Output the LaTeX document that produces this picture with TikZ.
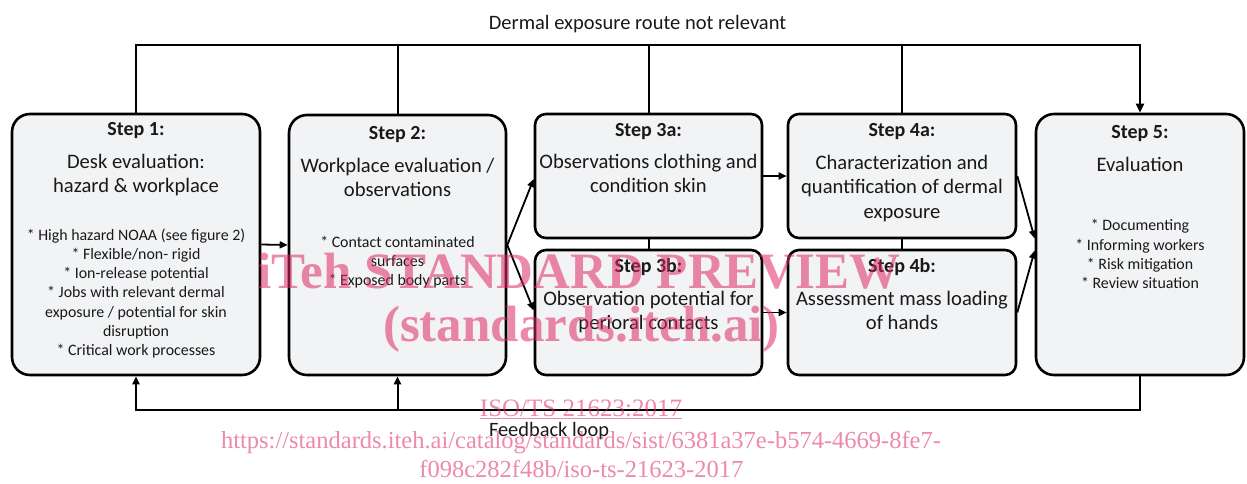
\documentclass[tikz,border=0pt]{standalone}
\usepackage{fontspec}
\setmainfont{Carlito}
\newfontfamily\wmfont{Liberation Serif}
\usetikzlibrary{calc,positioning,arrows.meta}
\definecolor{boxfill}{RGB}{242,243,245}
\definecolor{wmpink}{RGB}{222,40,100}

\begin{document}
\begin{tikzpicture}[x=1pt,y=-1pt,
	stepbox/.style={draw=black,line width=2.6pt,fill=boxfill,inner sep=0pt},
	bigbox/.style={stepbox,rounded corners=18pt},
	smallbox/.style={stepbox,rounded corners=11pt},
	steptitle/.style={anchor=base,font=\fontsize{20}{24}\selectfont\bfseries,text=black!90},
	stepbody/.style={anchor=base,align=center,font=\fontsize{20.6}{24.5}\selectfont,text=black!90},
	steplist/.style={anchor=base,align=center,font=\fontsize{15.9}{19.25}\selectfont,text=black!90},
	route/.style={line width=2pt},
	heavyroute/.style={line width=2.8pt},
	link/.style={line width=1.8pt,-{Triangle[length=8pt,width=7pt]}},
	watermark/.style={anchor=base,text=wmpink,opacity=0.55}]
	\useasboundingbox (0,0) rectangle (1247,483);
	
	% step boxes
	\node[bigbox,minimum width=248pt,minimum height=261pt] (s1) at (136,244.5) {};
	\node[bigbox,minimum width=217pt,minimum height=260pt] (s2) at (397.5,245) {};
	\node[smallbox,minimum width=227pt,minimum height=124pt] (s3a) at (648.5,176) {};
	\node[smallbox,minimum width=227pt,minimum height=125pt] (s3b) at (648.5,312.5) {};
	\node[smallbox,minimum width=228pt,minimum height=124pt] (s4a) at (902,176) {};
	\node[smallbox,minimum width=228pt,minimum height=125pt] (s4b) at (902,312.5) {};
	\node[bigbox,minimum width=208pt,minimum height=261pt] (s5) at (1140,244.5) {};
	
	% texts (base = last line)
	\node[steptitle] (s1t) at ($(s1.north)+(0,23)$) {Step 1:};
	\node[stepbody] (s1b) at ($(s1.north)+(0,80)$) {Desk evaluation:\\hazard \& workplace};
	\node[steplist] (s1l) at ($(s1.north)+(0,243)$) {* High hazard NOAA (see figure 2)\\* Flexible/non- rigid\\* Ion-release potential\\* Jobs with relevant dermal\\exposure / potential for skin\\disruption\\* Critical work processes};
	
	\node[steptitle] (s2t) at ($(s2.north)+(0,26)$) {Step 2:};
	\node[stepbody] (s2b) at ($(s2.north)+(0,83)$) {Workplace evaluation /\\observations};
	\node[steplist] (s2l) at ($(s2.north)+(0,172)$) {* Contact contaminated\\surfaces\\* Exposed body parts};
	
	\node[steptitle] (s3at) at ($(s3a.north)+(0,23.5)$) {Step 3a:};
	\node[stepbody] (s3ab) at ($(s3a.north)+(0,80)$) {Observations clothing and\\condition skin};
	\node[steptitle] (s3bt) at ($(s3b.north)+(0,24)$) {Step 3b:};
	\node[stepbody] (s3bb) at ($(s3b.north)+(0,81)$) {Observation potential for\\perioral contacts};
	
	\node[steptitle] (s4at) at ($(s4a.north)+(0,23.5)$) {Step 4a:};
	\node[stepbody] (s4ab) at ($(s4a.north)+(0,105.5)$) {Characterization and\\quantification of dermal\\exposure};
	\node[steptitle] (s4bt) at ($(s4b.north)+(0,24)$) {Step 4b:};
	\node[stepbody] (s4bb) at ($(s4b.north)+(0,81)$) {Assessment mass loading\\of hands};
	
	\node[steptitle] (s5t) at ($(s5.north)+(0,26)$) {Step 5:};
	\node[stepbody] (s5b) at ($(s5.north)+(0,58.7)$) {Evaluation};
	\node[steplist] (s5l) at ($(s5.north)+(0,176)$) {* Documenting\\* Informing workers\\* Risk mitigation\\* Review situation};
	
	% routes
	\coordinate (hi) at (0,45);
	\coordinate (lo) at (0,410);
	\node[anchor=base,font=\fontsize{20.5}{24}\selectfont,text=black!90] (skip) at (637.5,29) {Dermal exposure route not relevant};
	\node[anchor=base,font=\fontsize{20.4}{24}\selectfont,text=black!90] (loop) at (549,436.5) {Feedback loop};
	
	\draw[route] (s1.north) |- (s4a.north |- hi);
	\foreach \x in {s2,s3a,s4a}{
		\draw[route] (\x.north) -- (\x.north |- hi);}
	\draw[heavyroute,-{Triangle[length=9pt,width=8pt]}] (s4a.north |- hi) -| (s5.north);
	\draw[route] (s3a.south) -- (s3b.north);
	\draw[route] (s4a.south) -- (s4b.north);
	
	\draw[heavyroute] (s5.south) |- (s2.south |- lo);
	\draw[route,-{Triangle[length=8pt,width=7pt]}] (s2.south |- lo) -| (s1.south);
	\draw[route,-{Triangle[length=8pt,width=7pt]}] (s2.south |- lo) -- (s2.south);
	
	% links
	\draw[link] (s1.east) -- (s2.west);
	\draw[link] (s2.east) -- ($(s3a.west)+(0,3)$);
	\draw[link] (s2.east) -- ($(s3b.west)+(0,-2)$);
	\draw[link] (s3a.east) -- (s4a.west);
	\draw[link] (s3b.east) -- (s4b.west);
	\draw[link] (s4a.east) -- ($(s5.west)+(0,-6)$);
	\draw[link] (s4b.east) -- ($(s5.west)+(0,6)$);
	
	% watermark
	\node[watermark,font=\wmfont\fontsize{51}{51}\selectfont\bfseries] (wm1) at (579,288) {iTeh STANDARD PREVIEW};
	\node[watermark,font=\wmfont\fontsize{51}{51}\selectfont\bfseries] (wm2) at (581.5,341) {(standards.iteh.ai)};
	\node[watermark,font=\wmfont\fontsize{25}{25}\selectfont] (wm3) at (581,416) {\underline{ISO/TS 21623:2017}};
	\node[watermark,font=\wmfont\fontsize{24.5}{25}\selectfont] (wm4) at (581,448) {https://standards.iteh.ai/catalog/standards/sist/6381a37e-b574-4669-8fe7-};
	\node[watermark,font=\wmfont\fontsize{24.5}{25}\selectfont] (wm5) at (581.3,477.5) {f098c282f48b/iso-ts-21623-2017};
\end{tikzpicture}
\end{document}
